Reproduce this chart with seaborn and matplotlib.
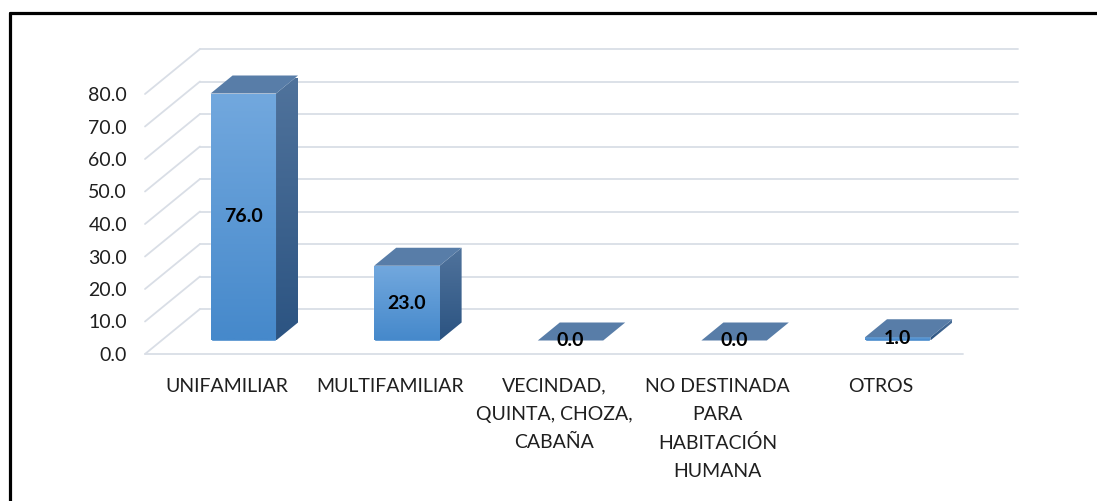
import numpy as np
import seaborn as sns
import matplotlib.pyplot as plt
import matplotlib.transforms as mtransforms
from matplotlib.patches import Polygon
from matplotlib.lines import Line2D

# datos del grafico
categorias = ["UNIFAMILIAR", "MULTIFAMILIAR", "VECINDAD,\nQUINTA, CHOZA,\nCABAÑA",
              "NO DESTINADA\nPARA\nHABITACIÓN\nHUMANA", "OTROS"]
porcentajes = [76.0, 23.0, 0.0, 0.0, 1.0]
yticks = [0, 10, 20, 30, 40, 50, 60, 70, 80]

W, H = 1097, 501
DX, DY = 55, 45          # profundidad del efecto 3D (pixeles)
F1, F2 = 0.30, 0.70      # cara frontal / trasera de las barras dentro del fondo

c_front_top, c_front_bot = "#72A8DE", "#4689CB"
c_side_top, c_side_bot = "#50739C", "#2C5482"
c_top = "#587DA8"
c_grid = "#D9DEE6"
c_text = "#1F1F1F"

sns.set_style("white")
plt.rcParams["font.family"] = ["Lato", "DejaVu Sans"]

fig = plt.figure(figsize=(W / 100, H / 100), dpi=100)
ax = fig.add_axes([145 / W, (H - 354) / H, 818 / W, 85 * 3.25 / H])

sns.barplot(x=categorias, y=porcentajes, width=0.4, color=c_front_bot,
            saturation=1, ax=ax, zorder=3)
x0, x1 = -0.5, len(categorias) - 0.5
ax.set_xlim(x0, x1)
ax.set_ylim(0, 85)
ax.set_autoscale_on(False)
for s in ax.spines.values():
    s.set_visible(False)
ax.grid(False)


def desplazado(f):
    return mtransforms.offset_copy(ax.transData, fig=fig, x=DX * f, y=DY * f, units="dots")


ident = mtransforms.IdentityTransform()
T1, T2 = desplazado(F1), desplazado(F2)


def degradado(puntos, ctop, cbot, z):
    """rellena un poligono (coords de pantalla) con un degradado vertical"""
    poly = Polygon(puntos, closed=True, transform=ident, facecolor="none",
                   edgecolor="none", clip_on=False)
    ax.add_patch(poly)
    pts = np.array(puntos)
    c1 = np.array(plt.matplotlib.colors.to_rgb(ctop))
    c2 = np.array(plt.matplotlib.colors.to_rgb(cbot))
    t = np.linspace(0, 1, 64)[:, None]
    img = (c1 * (1 - t) + c2 * t)[:, None, :]
    im = ax.imshow(img, extent=(pts[:, 0].min(), pts[:, 0].max(), pts[:, 1].min(), pts[:, 1].max()),
                   transform=ident, aspect="auto", zorder=z, interpolation="bilinear")
    im.set_clip_path(poly)


# rejilla: pared del fondo, diagonales y piso
back = desplazado(1)
for v in yticks:
    ax.plot([x0, x1], [v, v], transform=back, color=c_grid, lw=1.3, clip_on=False, zorder=0)
    p = ax.transData.transform((x0, v))
    ax.plot([p[0], p[0] + DX], [p[1], p[1] + DY], transform=ident, color=c_grid, lw=1.3,
            clip_on=False, zorder=0)
ax.plot([x0, x1], [0, 0], color=c_grid, lw=1.3, clip_on=False, zorder=0)

# barras en 3D
for bar in list(ax.patches):
    x, w, h = bar.get_x(), bar.get_width(), bar.get_height()
    bar.set_transform(T1)
    bar.set_clip_on(False)
    a, b = T1.transform((x, 0)), T1.transform((x + w, h))
    if h > 0:
        degradado([(a[0], a[1]), (b[0], a[1]), (b[0], b[1]), (a[0], b[1])],
                  c_front_top, c_front_bot, 4)
        lado = [T1.transform((x + w, 0)), T2.transform((x + w, 0)),
                T2.transform((x + w, h)), T1.transform((x + w, h))]
        degradado([tuple(q) for q in lado], c_side_top, c_side_bot, 4)
    tapa = [T1.transform((x, h)), T1.transform((x + w, h)),
            T2.transform((x + w, h)), T2.transform((x, h))]
    ax.add_patch(Polygon(tapa, closed=True, transform=ident, facecolor=c_top,
                         edgecolor="none", clip_on=False, zorder=5))
    ax.text(x + w / 2, h / 2, f"{h:.1f}", transform=T1, ha="center", va="center",
            fontsize=14, fontweight="bold", color="black", zorder=6, clip_on=False)

ax.set_yticks(yticks)
ax.set_yticklabels([f"{v:.1f}" for v in yticks])
ax.set_xticks(range(len(categorias)))
ax.set_xticklabels(categorias, linespacing=1.78)
ax.tick_params(axis="y", length=0, pad=13, labelsize=14, labelcolor=c_text)
ax.tick_params(axis="x", length=0, pad=17, labelsize=14, labelcolor=c_text)
ax.set_xlabel("")
ax.set_ylabel("")

# marco del grafico
fig.add_artist(Line2D([9.5 / W, 1], [1 - 12.5 / H] * 2, transform=fig.transFigure,
                      color="black", lw=2.3))
fig.add_artist(Line2D([9.5 / W] * 2, [0, 1 - 12.5 / H], transform=fig.transFigure,
                      color="black", lw=2.3))

fig.savefig("out.png", dpi=100)
